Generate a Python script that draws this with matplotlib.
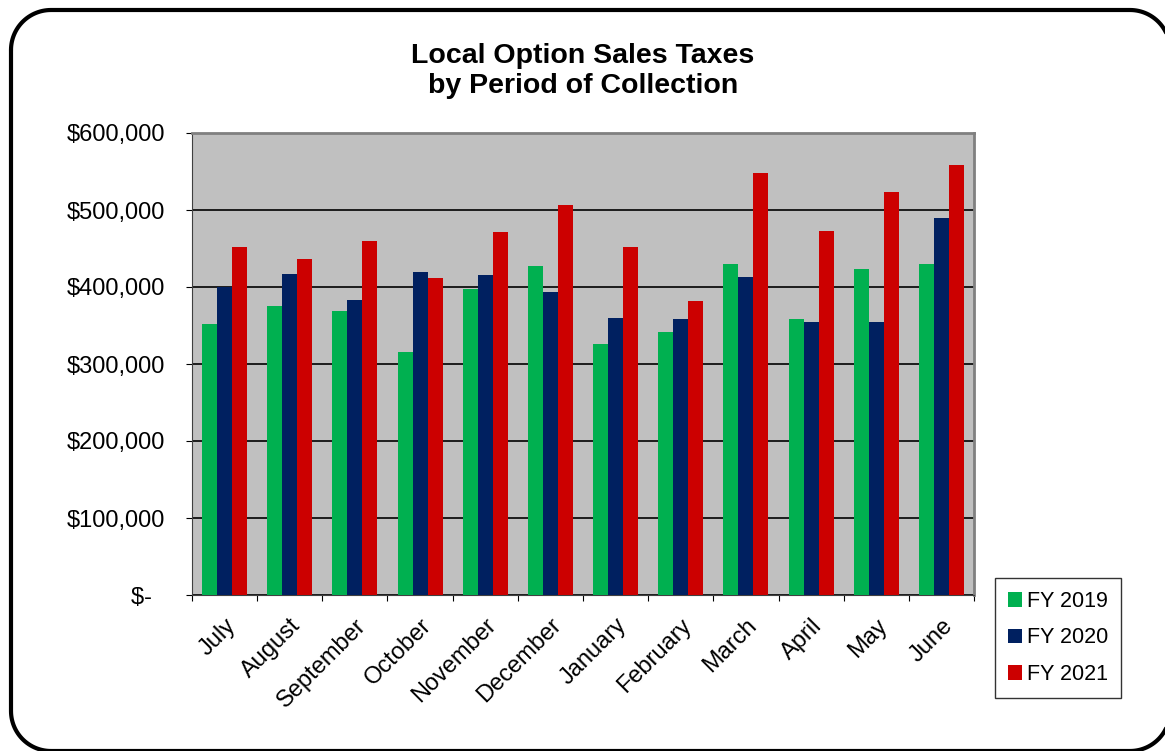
import matplotlib.pyplot as plt
import numpy as np
from matplotlib.ticker import FuncFormatter

plt.rcParams['font.family'] = ['Liberation Sans', 'DejaVu Sans']

months = ["July", "August", "September", "October", "November", "December",
          "January", "February", "March", "April", "May", "June"]
fy2019 = [352000, 375000, 369000, 315000, 397000, 427000,
          326000, 342000, 430000, 358000, 423000, 430000]
fy2020 = [400000, 417000, 383000, 419000, 415000, 394000,
          360000, 359000, 413000, 355000, 355000, 490000]
fy2021 = [452000, 437000, 460000, 412000, 471000, 506000,
          452000, 382000, 548000, 473000, 524000, 558000]
series = [("FY 2019", fy2019, "#00B050"),
          ("FY 2020", fy2020, "#002060"),
          ("FY 2021", fy2021, "#CC0000")]


def money(v, pos):
    if v == 0:
        return "$-  "
    return "${:,.0f}".format(v)


def rounded_rect(x0, y0, x1, y1, r, n=30):
    # corners in pixel coords, y grows downwards
    pts = []
    for cx, cy, a0 in [(x0 + r, y0 + r, 180), (x1 - r, y0 + r, 270),
                       (x1 - r, y1 - r, 0), (x0 + r, y1 - r, 90)]:
        t = np.radians(np.linspace(a0, a0 + 90, n))
        pts += list(zip(cx + r * np.cos(t), cy + r * np.sin(t)))
    pts.append(pts[0])
    return np.array(pts)


W, H = 1165, 751
fig = plt.figure(figsize=(W / 100, H / 100), dpi=100)

# overlay in pixel units for the rounded outer frame (runs off right/bottom)
bg = fig.add_axes([0, 0, 1, 1], zorder=-1)
bg.set_xlim(0, W)
bg.set_ylim(H, 0)
bg.axis("off")
p = rounded_rect(11, 10, 1170, 751, 40)
bg.plot(p[:, 0], p[:, 1], color="black", linewidth=3, solid_capstyle="round")

ax = fig.add_axes([192 / W, 1 - 595 / H, 782 / W, 462 / H])
ax.set_facecolor("#C0C0C0")

x = np.arange(len(months))
w = 0.23
for i, (name, vals, col) in enumerate(series):
    ax.bar(x + (i - 1) * w, vals, width=w, color=col, label=name, zorder=3)

ax.set_xlim(-0.5, len(months) - 0.5)
ax.set_ylim(0, 600000)
ax.set_yticks(np.arange(0, 600001, 100000))
ax.yaxis.set_major_formatter(FuncFormatter(money))
ax.grid(axis="y", color="black", linewidth=1.2, zorder=1)

ax.set_xticks(np.arange(-0.5, len(months), 1.0))
ax.set_xticklabels([])
ax.set_xticks(x, minor=True)
ax.set_xticklabels(months, minor=True, rotation=45, ha="right",
                   rotation_mode="anchor", fontsize=17)
ax.tick_params(axis="x", which="minor", length=0, pad=14)
ax.tick_params(axis="x", which="major", length=4.5, direction="out")
ax.tick_params(axis="y", length=4.5, labelsize=17, pad=15)

for s in ["top", "right"]:
    ax.spines[s].set_color("#808080")
    ax.spines[s].set_linewidth(2)
ax.spines["left"].set_color("#404040")
ax.spines["bottom"].set_color("#404040")

fig.text(583 / W, 1 - 71 / H, "Local Option Sales Taxes\nby Period of Collection",
         ha="center", va="center", fontsize=20.5, fontweight="bold", linespacing=1.22)

leg = fig.legend(loc="upper left", bbox_to_anchor=(995 / W, 1 - 578 / H),
                 frameon=True, fancybox=False, fontsize=15.5, handlelength=0.65,
                 handleheight=0.65, handletextpad=0.25, labelspacing=0.72,
                 borderpad=0.6, borderaxespad=0, edgecolor="black")
leg.get_frame().set_linewidth(1)

fig.savefig("out.png", dpi=100)
